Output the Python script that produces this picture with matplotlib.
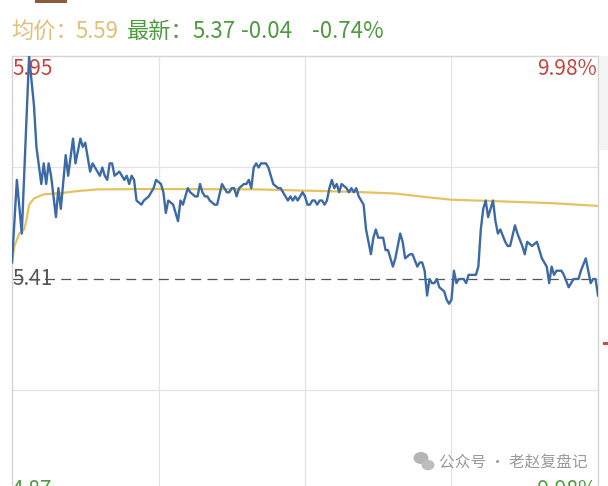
import matplotlib.pyplot as plt
from matplotlib.patches import Rectangle, Ellipse

plt.rcParams['font.family'] = ['Noto Sans CJK SC', 'DejaVu Sans']

W, H = 608, 486

# intraday data (minute from open, price)
minutes = [0, 2, 4, 7, 9, 10, 12, 13, 14, 15, 16, 18, 19, 20, 22, 23, 25, 26, 28, 29,
           30, 32, 33, 35, 36, 37, 38, 39, 40, 41, 42, 44, 45, 46, 47, 48, 49, 50, 51, 53,
           54, 56, 58, 59, 61, 62, 63, 64, 66, 67, 68, 69, 70, 72, 73, 75, 76, 77, 78, 79,
           80, 81, 83, 84, 86, 88, 89, 90, 91, 92, 93, 95, 96, 97, 98, 99, 100, 101, 102, 104,
           105, 106, 107, 109, 110, 111, 112, 113, 114, 115, 116, 117, 119, 120, 121, 122, 123, 124, 125, 126,
           127, 128, 129, 130, 131, 132, 133, 134, 135, 137, 138, 139, 140, 141, 142, 143, 144, 145, 147, 148,
           149, 150, 152, 153, 154, 155, 156, 157, 159, 160, 161, 163, 164, 166, 167, 168, 169, 170, 171, 172,
           173, 174, 175, 177, 178, 179, 180, 181, 182, 183, 184, 185, 186, 187, 189, 190, 191, 192, 193, 194,
           195, 196, 197, 198, 199, 200, 202, 203, 204, 206, 207, 209, 210, 211, 213, 215, 216, 217, 219, 220,
           221, 222, 223, 225, 226, 228, 229, 230, 232, 233, 235, 237, 238, 239, 240]
prices = [5.45, 5.65, 5.52, 5.95, 5.83, 5.73, 5.64, 5.69, 5.64, 5.69, 5.66, 5.56, 5.63, 5.58, 5.71, 5.66, 5.75, 5.69, 5.75, 5.73,
          5.74, 5.67, 5.69, 5.67, 5.66, 5.68, 5.66, 5.65, 5.69, 5.69, 5.66, 5.67, 5.66, 5.65, 5.66, 5.64, 5.66, 5.65, 5.60, 5.59,
          5.60, 5.61, 5.63, 5.65, 5.64, 5.62, 5.57, 5.60, 5.59, 5.57, 5.55, 5.60, 5.59, 5.63, 5.62, 5.61, 5.61, 5.64, 5.62, 5.61,
          5.61, 5.60, 5.59, 5.59, 5.64, 5.62, 5.62, 5.63, 5.63, 5.61, 5.63, 5.64, 5.64, 5.65, 5.63, 5.68, 5.69, 5.68, 5.69, 5.69,
          5.68, 5.66, 5.64, 5.63, 5.63, 5.62, 5.61, 5.60, 5.61, 5.60, 5.61, 5.60, 5.62, 5.61, 5.59, 5.59, 5.60, 5.60, 5.59, 5.60,
          5.60, 5.59, 5.60, 5.63, 5.65, 5.63, 5.64, 5.62, 5.64, 5.63, 5.62, 5.63, 5.62, 5.63, 5.61, 5.60, 5.59, 5.53, 5.47, 5.51,
          5.53, 5.51, 5.51, 5.48, 5.48, 5.46, 5.44, 5.46, 5.52, 5.50, 5.46, 5.47, 5.47, 5.44, 5.45, 5.45, 5.43, 5.37, 5.41, 5.40,
          5.40, 5.41, 5.39, 5.38, 5.36, 5.35, 5.36, 5.43, 5.40, 5.41, 5.41, 5.41, 5.40, 5.42, 5.42, 5.42, 5.44, 5.53, 5.58, 5.60,
          5.56, 5.58, 5.60, 5.55, 5.52, 5.53, 5.50, 5.49, 5.49, 5.54, 5.52, 5.49, 5.47, 5.50, 5.49, 5.50, 5.48, 5.46, 5.44, 5.40,
          5.44, 5.42, 5.43, 5.43, 5.42, 5.39, 5.40, 5.41, 5.41, 5.43, 5.46, 5.40, 5.41, 5.41, 5.37]

avg_minutes = [0, 1, 3, 5, 6, 7, 9, 13, 20, 27, 35, 60, 100, 120, 140, 157, 170, 180, 200, 220, 240]
avg_prices = [5.45, 5.49, 5.52, 5.53, 5.555, 5.59, 5.605, 5.615, 5.618, 5.623, 5.627, 5.628, 5.627,
              5.624, 5.621, 5.617, 5.608, 5.602, 5.598, 5.594, 5.587]

prev_close = 5.41
y_top, y_bot = 5.95, 4.87

blue = '#3c6aa6'
gold = '#e6c25f'
red = '#c4433f'
green = '#4e9a3f'


def fx(x):
    return x / W


def fy(y):
    return 1 - y / H


fig = plt.figure(figsize=(W / 100, H / 100), dpi=100)

# top bar
fig.add_artist(Rectangle((fx(0), fy(6.5)), 1, 0.0015, transform=fig.transFigure,
                         color='#dcdcdc', lw=0))
fig.add_artist(Rectangle((fx(35), fy(3)), fx(32), 3 / H, transform=fig.transFigure,
                         color='#8d5a3e', lw=0))
# right side panel and red mark
fig.add_artist(Rectangle((fx(599), fy(150)), fx(9), 94 / H, transform=fig.transFigure,
                         color='#f3f3f3', lw=0))
fig.add_artist(Rectangle((fx(603), fy(345)), fx(5), 3 / H, transform=fig.transFigure,
                         color='#d04a45', lw=0))

ax = fig.add_axes([fx(12), fy(502), 586 / W, 446 / H])
ax.set_xlim(0, 240)
ax.set_ylim(y_bot, y_top)
for s in ['left', 'top', 'right', 'bottom']:
    ax.spines[s].set_color('#d4d4d4')
    ax.spines[s].set_linewidth(1)
ax.set_xticks([])
ax.set_yticks([])

for m in [60, 120, 180]:
    ax.axvline(m, color='#e3e3e3', lw=0.9, zorder=0)
for p in [5.68, 5.14]:
    ax.axhline(p, color='#e3e3e3', lw=0.9, zorder=0)
ax.axhline(prev_close, color='#555555', lw=0.9, dashes=(8, 5), zorder=1)

ax.plot(avg_minutes, avg_prices, color=gold, lw=1.6, zorder=2)
ax.plot(minutes, prices, color=blue, lw=1.7, zorder=3)

# header
hy = fy(32)
fs = 16
fig.text(fx(11), hy, '均价：', color='#e2bf77', fontsize=fs, va='center')
fig.text(fx(75), hy, '5.59', color='#e2bf77', fontsize=fs, va='center')
fig.text(fx(127), hy, '最新：', color=green, fontsize=fs, va='center')
fig.text(fx(192), hy, '5.37', color=green, fontsize=fs, va='center')
fig.text(fx(241), hy, '-0.04', color=green, fontsize=fs, va='center')
fig.text(fx(312), hy, '-0.74%', color=green, fontsize=fs, va='center')

# axis labels
fs2 = 15
fig.text(fx(12), fy(69), '5.95', color=red, fontsize=fs2, va='center')
fig.text(fx(597), fy(69), '9.98%', color=red, fontsize=fs2, va='center', ha='right')
fig.text(fx(12), fy(279), '5.41', color='#555555', fontsize=fs2, va='center')
fig.text(fx(12), fy(490), '4.87', color=green, fontsize=fs2, va='center')
fig.text(fx(597), fy(490), '-9.98%', color=green, fontsize=fs2, va='center', ha='right')

# watermark
fig.add_artist(Ellipse((fx(421), fy(458)), 15 / W, 12 / H, transform=fig.transFigure,
                       color='#b5b5b5', lw=0))
fig.add_artist(Ellipse((fx(428), fy(465)), 13 / W, 10.5 / H, transform=fig.transFigure,
                       color='#bdbdbd', lw=0))
fig.text(fx(439), fy(462), '公众号 · 老赵复盘记', color='#9a9a9a', fontsize=11.3, va='center')

fig.savefig('out.png', dpi=100)
